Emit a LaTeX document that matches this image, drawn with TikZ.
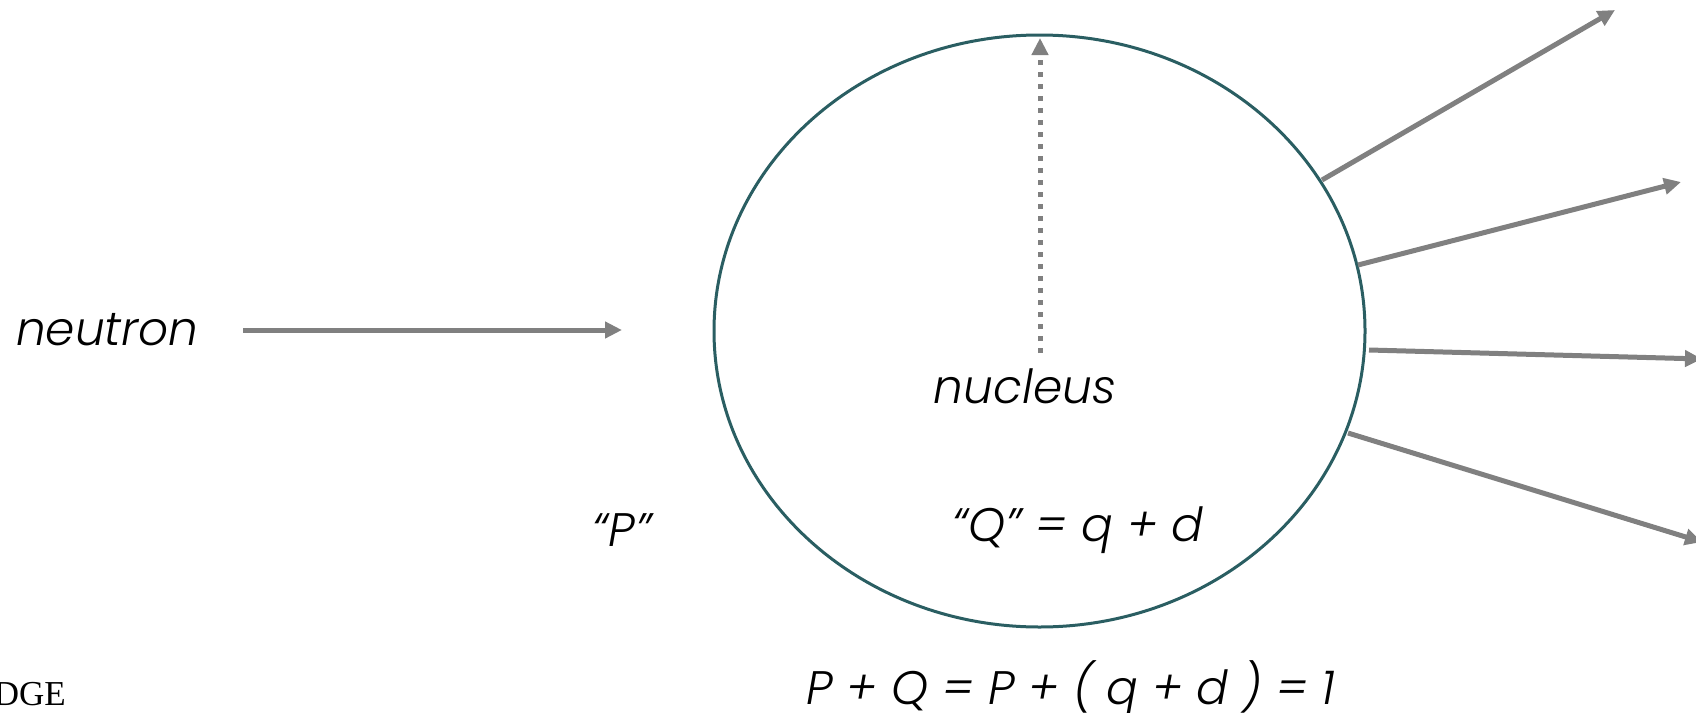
\documentclass[tikz,border=0pt]{standalone}
\usepackage{fontspec}
\setmainfont{Liberation Serif}
\newfontfamily\gfont{Poppins Light}[ItalicFont={Poppins Light Italic}]
\usetikzlibrary{arrows.meta,shapes.geometric}
\definecolor{rim}{RGB}{42,94,98}
\definecolor{arr}{RGB}{128,128,128}
\tikzset{
  lbl/.style={font=\gfont\itshape\fontsize{47}{56}\selectfont, inner sep=0pt, text=black},
  ray/.style={draw=arr, line width=5pt, -{Triangle[length=17pt,width=16pt]}},
  dotray/.style={draw=arr, line width=5pt, dash pattern=on 5pt off 7pt, -{Triangle[length=17pt,width=16pt]}},
}
\begin{document}
\begin{tikzpicture}[x=1pt,y=-1pt]
\useasboundingbox (0,0) rectangle (1696,712);
\node[ellipse, draw=rim, line width=3pt, inner sep=0pt, minimum width=651pt, minimum height=592pt] (nucleus) at (1039.5,331) {};
\node[lbl, anchor=west] (neutron) at (16,330) {neutron};
\node[lbl] (nuclabel) at (1025,386) {nucleus};
\node[lbl] (plabel) at (622,530) {“P”};
\node[lbl] (qlabel) at (1078,530) {“Q” = q + d};
\node[lbl] (sum) at (1071,689) {P + Q = P + ( q + d ) = 1};
\node[font=\fontsize{35}{42}\selectfont, anchor=base east, inner sep=0pt] (dge) at (66,705) {DGE};
\coordinate (n0) at (243,330);
\coordinate (n1) at (622,330);
\coordinate (d0) at (1040,353);
\coordinate (d1) at (1040,38);
\coordinate (a0) at (1322,180); \coordinate (a1) at (1615,10);
\coordinate (b0) at (1358,265); \coordinate (b1) at (1681,182);
\coordinate (c0) at (1369,350); \coordinate (c1) at (1702,359);
\coordinate (e0) at (1348,433); \coordinate (e1) at (1702,542);
\draw[ray] (n0) -- (n1);
\draw[dotray] (d0) -- (d1);
\draw[ray] (a0) -- (a1);
\draw[ray] (b0) -- (b1);
\draw[ray] (c0) -- (c1);
\draw[ray] (e0) -- (e1);
\end{tikzpicture}
\end{document}
